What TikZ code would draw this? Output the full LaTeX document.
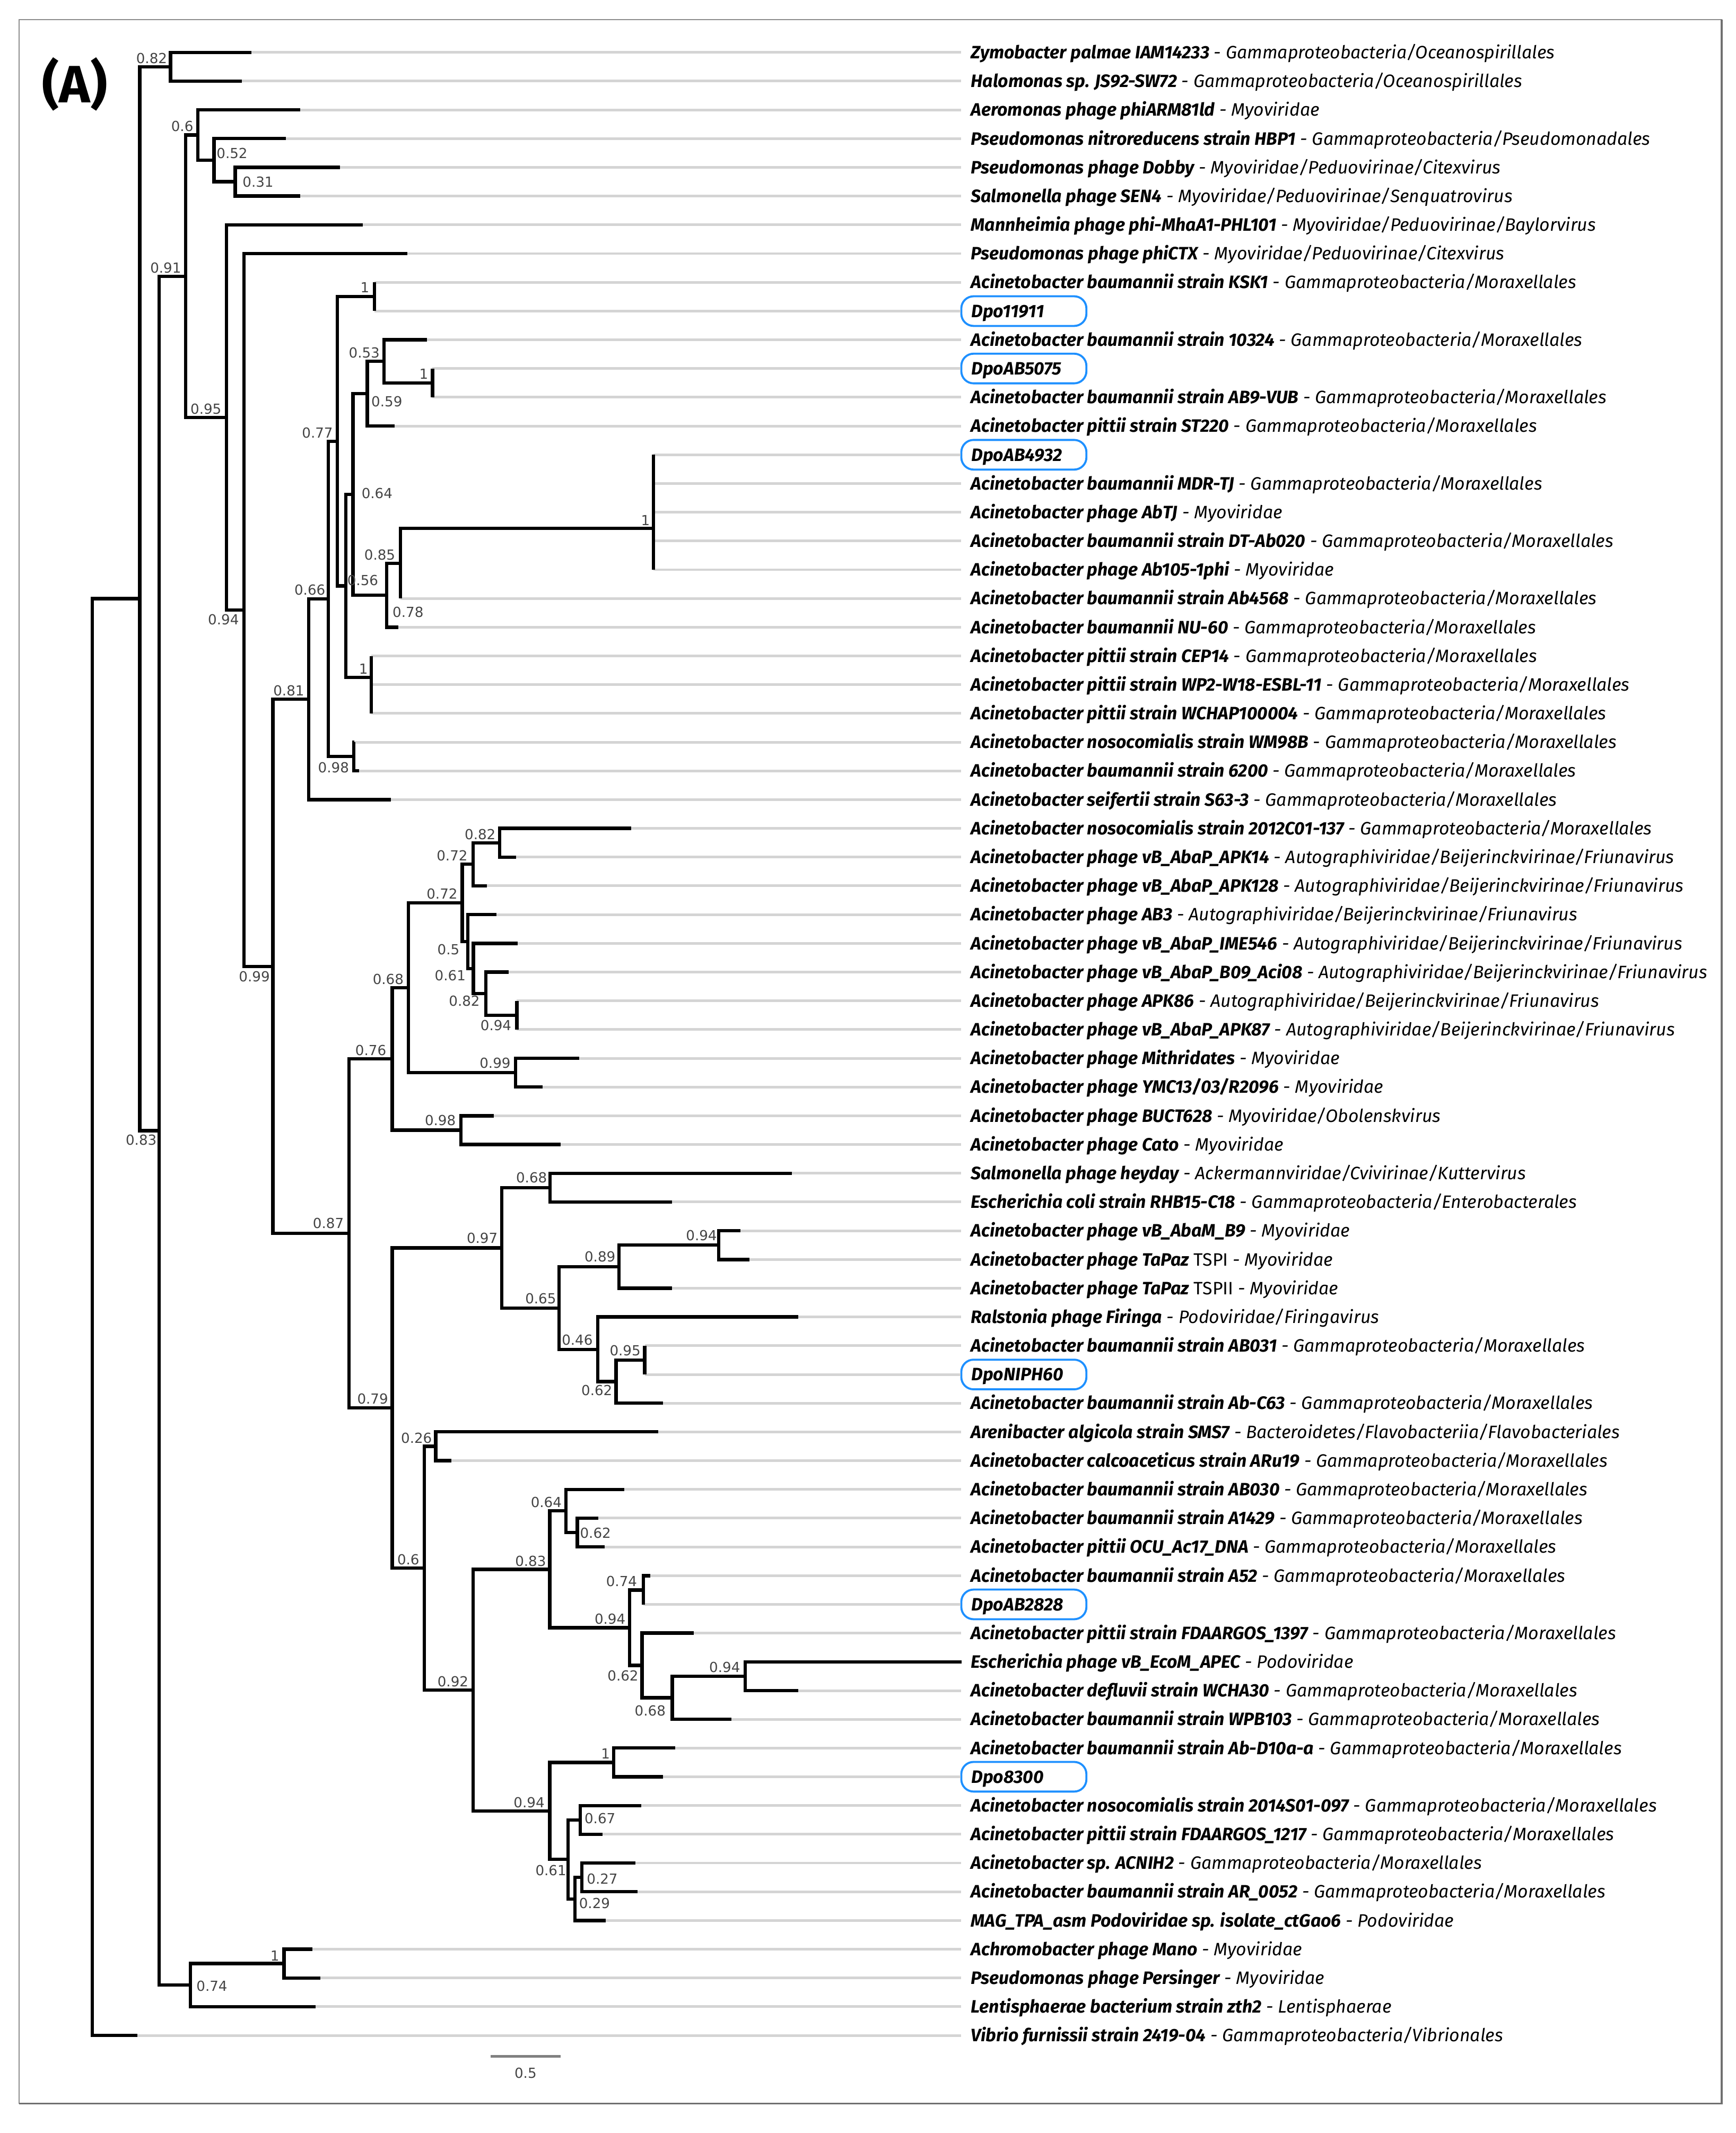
\documentclass[tikz,border=0pt]{standalone}
\usepackage{fontspec}
\setmainfont{Fira Sans}
\newfontfamily\supfont{DejaVu Sans}
\definecolor{dpoblue}{HTML}{1E90FF}
\definecolor{leafgray}{HTML}{D4D4D4}
\definecolor{supgray}{HTML}{444444}
\definecolor{framegray}{HTML}{8C8C8C}

\begin{document}
\begin{tikzpicture}[x=0.02cm, y=-0.02cm,
  br/.style={line width=1.4pt},
  leaf/.style={draw=leafgray, line width=1.1pt},
  lab/.style={anchor=west, inner xsep=0.14cm, inner ysep=0pt, text height=5.2pt, text depth=0pt,
    font=\fontsize{7.5}{9}\selectfont\itshape},
  dpo/.style={lab, draw=dpoblue, line width=0.85pt, rounded corners=0.18cm, minimum height=0.436cm,
    text width=1.54cm, align=left, inner xsep=0.15cm, font=\fontsize{7.5}{9}\selectfont\bfseries\itshape},
  sup/.style={font=\supfont\fontsize{5.8}{6}\selectfont, text=supgray, inner sep=0pt},
]
\useasboundingbox (0,0) rectangle (1276,1568);

% frame
\draw[framegray, line width=0.4pt] (14,14.3) rectangle (1265.7,1546.3);
\draw[framegray!80!black, line width=0.8pt] (1265.7,14.3) -- (1265.7,1546.3) -- (14,1546.3);

\node[font=\fontsize{22}{24}\selectfont\bfseries] (title) at (55,62) {(A)};

% internal nodes
\coordinate (R) at (67.9,968.2);
\coordinate (nA) at (102.8,440.1);
\coordinate (nB) at (125.4,49.05);
\coordinate (nC) at (117,831.2);
\coordinate (nD) at (136.4,203.05);
\coordinate (n06) at (145.4,99.25);
\coordinate (n052) at (157.4,117.7);
\coordinate (n031) at (172.9,133.55);
\coordinate (n095) at (166.5,306.85);
\coordinate (n094) at (179.4,448.4);
\coordinate (n099) at (200.6,710.4);
\coordinate (n081) at (227,514.05);
\coordinate (n066) at (241.4,440.3);
\coordinate (n077) at (248,324.4);
\coordinate (n1a) at (275.4,218.1);
\coordinate (n056) at (254.3,430.75);
\coordinate (n064) at (259.5,363.5);
\coordinate (n059) at (270,289.4);
\coordinate (n053) at (282.3,265.6);
\coordinate (n1c) at (318,281.45);
\coordinate (n078) at (284.4,437.6);
\coordinate (n085) at (294.4,414.1);
\coordinate (n1d) at (480.4,388.3);
\coordinate (n1b) at (273,498.0);
\coordinate (n098) at (260,556.15);
\coordinate (n087) at (256.5,906.7);
\coordinate (n076) at (288.4,778.4);
\coordinate (n068) at (300.2,726.1);
\coordinate (n072a) at (339.8,663.7);
\coordinate (n072b) at (347.8,635.35);
\coordinate (n082b) at (367.3,619.5);
\coordinate (n05) at (343.9,692.1);
\coordinate (n061) at (348,711.95);
\coordinate (n082c) at (357.2,730.4);
\coordinate (n094c) at (380,746.25);
\coordinate (n099b) at (379,788.55);
\coordinate (n098b) at (338.8,830.75);
\coordinate (n079) at (288.4,1035.05);
\coordinate (n097) at (369,917.3);
\coordinate (n068b) at (404.3,873.05);
\coordinate (n065) at (411,961.5);
\coordinate (n089) at (455.2,931.15);
\coordinate (n094d) at (528.4,915.3);
\coordinate (n046) at (439.4,991.9);
\coordinate (n062b) at (452.9,1015.65);
\coordinate (n095b) at (474,999.8);
\coordinate (n06b) at (312,1152.8);
\coordinate (n026) at (320.3,1063.15);
\coordinate (n092) at (347.8,1242.4);
\coordinate (n083b) at (404.2,1153.65);
\coordinate (n064b) at (416,1110.7);
\coordinate (n062c) at (424.4,1126.55);
\coordinate (n094e) at (463,1196.6);
\coordinate (n074b) at (473,1168.85);
\coordinate (n062d) at (472,1224.3);
\coordinate (n068c) at (494.2,1248.05);
\coordinate (n094f) at (548,1232.2);
\coordinate (n094g) at (404.2,1331.2);
\coordinate (n1e) at (451.2,1295.55);
\coordinate (n061b) at (417.5,1366.9);
\coordinate (n067) at (426.7,1337.85);
\coordinate (n029) at (422.6,1395.9);
\coordinate (n027) at (427.7,1380.05);
\coordinate (n074) at (140,1459.3);
\coordinate (n1f) at (208.8,1443.45);

% leaf tips
\coordinate (t1) at (185,38.5);
\coordinate (t2) at (178,59.6);
\coordinate (t3) at (220.7,80.8);
\coordinate (t4) at (210,101.9);
\coordinate (t5) at (250,123.0);
\coordinate (t6) at (220.7,144.1);
\coordinate (t7) at (266.6,165.3);
\coordinate (t8) at (299.6,186.4);
\coordinate (t9) at (275.4,207.5);
\coordinate (t10) at (275.4,228.7);
\coordinate (t11) at (313.8,249.8);
\coordinate (t12) at (318,270.9);
\coordinate (t13) at (318,292.0);
\coordinate (t14) at (290,313.2);
\coordinate (t15) at (480.4,334.3);
\coordinate (t16) at (480.4,355.4);
\coordinate (t17) at (480.4,376.5);
\coordinate (t18) at (480.4,397.7);
\coordinate (t19) at (480.4,418.8);
\coordinate (t20) at (294.4,439.9);
\coordinate (t21) at (292.8,461.1);
\coordinate (t22) at (273,482.2);
\coordinate (t23) at (273,503.3);
\coordinate (t24) at (273,524.4);
\coordinate (t25) at (260.5,545.6);
\coordinate (t26) at (263.8,566.7);
\coordinate (t27) at (287.2,587.8);
\coordinate (t28) at (464,608.9);
\coordinate (t29) at (379.4,630.1);
\coordinate (t30) at (358,651.2);
\coordinate (t31) at (365,672.3);
\coordinate (t32) at (380.7,693.5);
\coordinate (t33) at (374,714.6);
\coordinate (t34) at (380,735.7);
\coordinate (t35) at (380,756.8);
\coordinate (t36) at (426,778.0);
\coordinate (t37) at (399,799.1);
\coordinate (t38) at (363,820.2);
\coordinate (t39) at (412,841.3);
\coordinate (t40) at (582,862.5);
\coordinate (t41) at (494.2,883.6);
\coordinate (t42) at (544.3,904.7);
\coordinate (t43) at (551,925.9);
\coordinate (t44) at (494.2,947.0);
\coordinate (t45) at (587,968.1);
\coordinate (t46) at (474,989.2);
\coordinate (t47) at (474,1010.4);
\coordinate (t48) at (487.3,1031.5);
\coordinate (t49) at (484,1052.6);
\coordinate (t50) at (332,1073.7);
\coordinate (t51) at (459,1094.9);
\coordinate (t52) at (440,1116.0);
\coordinate (t53) at (444.5,1137.1);
\coordinate (t54) at (478,1158.3);
\coordinate (t55) at (473,1179.4);
\coordinate (t56) at (510,1200.5);
\coordinate (t57) at (707,1221.6);
\coordinate (t58) at (587,1242.8);
\coordinate (t59) at (537.8,1263.9);
\coordinate (t60) at (496.5,1285.0);
\coordinate (t61) at (487.5,1306.1);
\coordinate (t62) at (471.4,1327.3);
\coordinate (t63) at (442.8,1348.4);
\coordinate (t64) at (467,1369.5);
\coordinate (t65) at (468.7,1390.6);
\coordinate (t66) at (445.5,1411.8);
\coordinate (t67) at (229.6,1432.9);
\coordinate (t68) at (235.4,1454.0);
\coordinate (t69) at (232,1475.1);
\coordinate (t70) at (101,1496.3);

% leaf labels
\node[lab] (l1) at (706.5,38.5) {\textbf{Zymobacter palmae IAM14233} - Gammaproteobacteria/Oceanospirillales};
\node[lab] (l2) at (706.5,59.6) {\textbf{Halomonas sp. JS92-SW72} - Gammaproteobacteria/Oceanospirillales};
\node[lab] (l3) at (706.5,80.8) {\textbf{Aeromonas phage phiARM81ld} - Myoviridae};
\node[lab] (l4) at (706.5,101.9) {\textbf{Pseudomonas nitroreducens strain HBP1} - Gammaproteobacteria/Pseudomonadales};
\node[lab] (l5) at (706.5,123.0) {\textbf{Pseudomonas phage Dobby} - Myoviridae/Peduovirinae/Citexvirus};
\node[lab] (l6) at (706.5,144.1) {\textbf{Salmonella phage SEN4} - Myoviridae/Peduovirinae/Senquatrovirus};
\node[lab] (l7) at (706.5,165.3) {\textbf{Mannheimia phage phi-MhaA1-PHL101} - Myoviridae/Peduovirinae/Baylorvirus};
\node[lab] (l8) at (706.5,186.4) {\textbf{Pseudomonas phage phiCTX} - Myoviridae/Peduovirinae/Citexvirus};
\node[lab] (l9) at (706.5,207.5) {\textbf{Acinetobacter baumannii strain KSK1} - Gammaproteobacteria/Moraxellales};
\node[dpo] (l10) at (706,228.7) {Dpo11911};
\node[lab] (l11) at (706.5,249.8) {\textbf{Acinetobacter baumannii strain 10324} - Gammaproteobacteria/Moraxellales};
\node[dpo] (l12) at (706,270.9) {DpoAB5075};
\node[lab] (l13) at (706.5,292.0) {\textbf{Acinetobacter baumannii strain AB9-VUB} - Gammaproteobacteria/Moraxellales};
\node[lab] (l14) at (706.5,313.2) {\textbf{Acinetobacter pittii strain ST220} - Gammaproteobacteria/Moraxellales};
\node[dpo] (l15) at (706,334.3) {DpoAB4932};
\node[lab] (l16) at (706.5,355.4) {\textbf{Acinetobacter baumannii MDR-TJ} - Gammaproteobacteria/Moraxellales};
\node[lab] (l17) at (706.5,376.5) {\textbf{Acinetobacter phage AbTJ} - Myoviridae};
\node[lab] (l18) at (706.5,397.7) {\textbf{Acinetobacter baumannii strain DT-Ab020} - Gammaproteobacteria/Moraxellales};
\node[lab] (l19) at (706.5,418.8) {\textbf{Acinetobacter phage Ab105-1phi} - Myoviridae};
\node[lab] (l20) at (706.5,439.9) {\textbf{Acinetobacter baumannii strain Ab4568} - Gammaproteobacteria/Moraxellales};
\node[lab] (l21) at (706.5,461.1) {\textbf{Acinetobacter baumannii NU-60} - Gammaproteobacteria/Moraxellales};
\node[lab] (l22) at (706.5,482.2) {\textbf{Acinetobacter pittii strain CEP14} - Gammaproteobacteria/Moraxellales};
\node[lab] (l23) at (706.5,503.3) {\textbf{Acinetobacter pittii strain WP2-W18-ESBL-11} - Gammaproteobacteria/Moraxellales};
\node[lab] (l24) at (706.5,524.4) {\textbf{Acinetobacter pittii strain WCHAP100004} - Gammaproteobacteria/Moraxellales};
\node[lab] (l25) at (706.5,545.6) {\textbf{Acinetobacter nosocomialis strain WM98B} - Gammaproteobacteria/Moraxellales};
\node[lab] (l26) at (706.5,566.7) {\textbf{Acinetobacter baumannii strain 6200} - Gammaproteobacteria/Moraxellales};
\node[lab] (l27) at (706.5,587.8) {\textbf{Acinetobacter seifertii strain S63-3} - Gammaproteobacteria/Moraxellales};
\node[lab] (l28) at (706.5,608.9) {\textbf{Acinetobacter nosocomialis strain 2012C01-137} - Gammaproteobacteria/Moraxellales};
\node[lab] (l29) at (706.5,630.1) {\textbf{Acinetobacter phage vB\_AbaP\_APK14} - Autographiviridae/Beijerinckvirinae/Friunavirus};
\node[lab] (l30) at (706.5,651.2) {\textbf{Acinetobacter phage vB\_AbaP\_APK128} - Autographiviridae/Beijerinckvirinae/Friunavirus};
\node[lab] (l31) at (706.5,672.3) {\textbf{Acinetobacter phage AB3} - Autographiviridae/Beijerinckvirinae/Friunavirus};
\node[lab] (l32) at (706.5,693.5) {\textbf{Acinetobacter phage vB\_AbaP\_IME546} - Autographiviridae/Beijerinckvirinae/Friunavirus};
\node[lab] (l33) at (706.5,714.6) {\textbf{Acinetobacter phage vB\_AbaP\_B09\_Aci08} - Autographiviridae/Beijerinckvirinae/Friunavirus};
\node[lab] (l34) at (706.5,735.7) {\textbf{Acinetobacter phage APK86} - Autographiviridae/Beijerinckvirinae/Friunavirus};
\node[lab] (l35) at (706.5,756.8) {\textbf{Acinetobacter phage vB\_AbaP\_APK87} - Autographiviridae/Beijerinckvirinae/Friunavirus};
\node[lab] (l36) at (706.5,778.0) {\textbf{Acinetobacter phage Mithridates} - Myoviridae};
\node[lab] (l37) at (706.5,799.1) {\textbf{Acinetobacter phage YMC13/03/R2096} - Myoviridae};
\node[lab] (l38) at (706.5,820.2) {\textbf{Acinetobacter phage BUCT628} - Myoviridae/Obolenskvirus};
\node[lab] (l39) at (706.5,841.3) {\textbf{Acinetobacter phage Cato} - Myoviridae};
\node[lab] (l40) at (706.5,862.5) {\textbf{Salmonella phage heyday} - Ackermannviridae/Cvivirinae/Kuttervirus};
\node[lab] (l41) at (706.5,883.6) {\textbf{Escherichia coli strain RHB15-C18} - Gammaproteobacteria/Enterobacterales};
\node[lab] (l42) at (706.5,904.7) {\textbf{Acinetobacter phage vB\_AbaM\_B9} - Myoviridae};
\node[lab] (l43) at (706.5,925.9) {\textbf{Acinetobacter phage TaPaz} \upshape TSPI \itshape - Myoviridae};
\node[lab] (l44) at (706.5,947.0) {\textbf{Acinetobacter phage TaPaz} \upshape TSPII \itshape - Myoviridae};
\node[lab] (l45) at (706.5,968.1) {\textbf{Ralstonia phage Firinga} - Podoviridae/Firingavirus};
\node[lab] (l46) at (706.5,989.2) {\textbf{Acinetobacter baumannii strain AB031} - Gammaproteobacteria/Moraxellales};
\node[dpo] (l47) at (706,1010.4) {DpoNIPH60};
\node[lab] (l48) at (706.5,1031.5) {\textbf{Acinetobacter baumannii strain Ab-C63} - Gammaproteobacteria/Moraxellales};
\node[lab] (l49) at (706.5,1052.6) {\textbf{Arenibacter algicola strain SMS7} - Bacteroidetes/Flavobacteriia/Flavobacteriales};
\node[lab] (l50) at (706.5,1073.7) {\textbf{Acinetobacter calcoaceticus strain ARu19} - Gammaproteobacteria/Moraxellales};
\node[lab] (l51) at (706.5,1094.9) {\textbf{Acinetobacter baumannii strain AB030} - Gammaproteobacteria/Moraxellales};
\node[lab] (l52) at (706.5,1116.0) {\textbf{Acinetobacter baumannii strain A1429} - Gammaproteobacteria/Moraxellales};
\node[lab] (l53) at (706.5,1137.1) {\textbf{Acinetobacter pittii OCU\_Ac17\_DNA} - Gammaproteobacteria/Moraxellales};
\node[lab] (l54) at (706.5,1158.3) {\textbf{Acinetobacter baumannii strain A52} - Gammaproteobacteria/Moraxellales};
\node[dpo] (l55) at (706,1179.4) {DpoAB2828};
\node[lab] (l56) at (706.5,1200.5) {\textbf{Acinetobacter pittii strain FDAARGOS\_1397} - Gammaproteobacteria/Moraxellales};
\node[lab] (l57) at (706.5,1221.6) {\textbf{Escherichia phage vB\_EcoM\_APEC} - Podoviridae};
\node[lab] (l58) at (706.5,1242.8) {\textbf{Acinetobacter defluvii strain WCHA30} - Gammaproteobacteria/Moraxellales};
\node[lab] (l59) at (706.5,1263.9) {\textbf{Acinetobacter baumannii strain WPB103} - Gammaproteobacteria/Moraxellales};
\node[lab] (l60) at (706.5,1285.0) {\textbf{Acinetobacter baumannii strain Ab-D10a-a} - Gammaproteobacteria/Moraxellales};
\node[dpo] (l61) at (706,1306.1) {Dpo8300};
\node[lab] (l62) at (706.5,1327.3) {\textbf{Acinetobacter nosocomialis strain 2014S01-097} - Gammaproteobacteria/Moraxellales};
\node[lab] (l63) at (706.5,1348.4) {\textbf{Acinetobacter pittii strain FDAARGOS\_1217} - Gammaproteobacteria/Moraxellales};
\node[lab] (l64) at (706.5,1369.5) {\textbf{Acinetobacter sp. ACNIH2} - Gammaproteobacteria/Moraxellales};
\node[lab] (l65) at (706.5,1390.6) {\textbf{Acinetobacter baumannii strain AR\_0052} - Gammaproteobacteria/Moraxellales};
\node[lab] (l66) at (706.5,1411.8) {\textbf{MAG\_TPA\_asm Podoviridae sp. isolate\_ctGao6} - Podoviridae};
\node[lab] (l67) at (706.5,1432.9) {\textbf{Achromobacter phage Mano} - Myoviridae};
\node[lab] (l68) at (706.5,1454.0) {\textbf{Pseudomonas phage Persinger} - Myoviridae};
\node[lab] (l69) at (706.5,1475.1) {\textbf{Lentisphaerae bacterium strain zth2} - Lentisphaerae};
\node[lab] (l70) at (706.5,1496.3) {\textbf{Vibrio furnissii strain 2419-04} - Gammaproteobacteria/Vibrionales};

% grey guide lines from tips to labels
\foreach \i in {1,...,70}
  \draw[leaf] (t\i) -- (l\i.west);

% branches
\draw[br] (R) |- (nA) (R) |- (t70);
\draw[br] (nA) |- (nB) (nA) |- (nC);
\draw[br] (nB) |- (t1) (nB) |- (t2);
\draw[br] (nC) |- (nD) (nC) |- (n074);
\draw[br] (nD) |- (n06) (nD) |- (n095);
\draw[br] (n06) |- (t3) (n06) |- (n052);
\draw[br] (n052) |- (t4) (n052) |- (n031);
\draw[br] (n031) |- (t5) (n031) |- (t6);
\draw[br] (n095) |- (t7) (n095) |- (n094);
\draw[br] (n094) |- (t8) (n094) |- (n099);
\draw[br] (n099) |- (n081) (n099) |- (n087);
\draw[br] (n081) |- (n066) (n081) |- (t27);
\draw[br] (n066) |- (n077) (n066) |- (n098);
\draw[br] (n077) |- (n1a) (n077) |- (n056);
\draw[br] (n1a) |- (t9) (n1a) |- (t10);
\draw[br] (n056) |- (n064) (n056) |- (n1b);
\draw[br] (n064) |- (n059) (n064) |- (n078);
\draw[br] (n059) |- (n053) (n059) |- (t14);
\draw[br] (n053) |- (t11) (n053) |- (n1c);
\draw[br] (n1c) |- (t12) (n1c) |- (t13);
\draw[br] (n078) |- (n085) (n078) |- (t21);
\draw[br] (n085) |- (n1d) (n085) |- (t20);
\draw[br] (n1d) |- (t15) (n1d) |- (t19);
\draw[br] (n1b) |- (t22) (n1b) |- (t24);
\draw[br] (n098) |- (t25) (n098) |- (t26);
\draw[br] (n087) |- (n076) (n087) |- (n079);
\draw[br] (n076) |- (n068) (n076) |- (n098b);
\draw[br] (n068) |- (n072a) (n068) |- (n099b);
\draw[br] (n072a) |- (n072b) (n072a) |- (n05);
\draw[br] (n072b) |- (n082b) (n072b) |- (t30);
\draw[br] (n082b) |- (t28) (n082b) |- (t29);
\draw[br] (n05) |- (t31) (n05) |- (n061);
\draw[br] (n061) |- (t32) (n061) |- (n082c);
\draw[br] (n082c) |- (t33) (n082c) |- (n094c);
\draw[br] (n094c) |- (t34) (n094c) |- (t35);
\draw[br] (n099b) |- (t36) (n099b) |- (t37);
\draw[br] (n098b) |- (t38) (n098b) |- (t39);
\draw[br] (n079) |- (n097) (n079) |- (n06b);
\draw[br] (n097) |- (n068b) (n097) |- (n065);
\draw[br] (n068b) |- (t40) (n068b) |- (t41);
\draw[br] (n065) |- (n089) (n065) |- (n046);
\draw[br] (n089) |- (n094d) (n089) |- (t44);
\draw[br] (n094d) |- (t42) (n094d) |- (t43);
\draw[br] (n046) |- (t45) (n046) |- (n062b);
\draw[br] (n062b) |- (n095b) (n062b) |- (t48);
\draw[br] (n095b) |- (t46) (n095b) |- (t47);
\draw[br] (n06b) |- (n026) (n06b) |- (n092);
\draw[br] (n026) |- (t49) (n026) |- (t50);
\draw[br] (n092) |- (n083b) (n092) |- (n094g);
\draw[br] (n083b) |- (n064b) (n083b) |- (n094e);
\draw[br] (n064b) |- (t51) (n064b) |- (n062c);
\draw[br] (n062c) |- (t52) (n062c) |- (t53);
\draw[br] (n094e) |- (n074b) (n094e) |- (n062d);
\draw[br] (n074b) |- (t54) (n074b) |- (t55);
\draw[br] (n062d) |- (t56) (n062d) |- (n068c);
\draw[br] (n068c) |- (n094f) (n068c) |- (t59);
\draw[br] (n094f) |- (t57) (n094f) |- (t58);
\draw[br] (n094g) |- (n1e) (n094g) |- (n061b);
\draw[br] (n1e) |- (t60) (n1e) |- (t61);
\draw[br] (n061b) |- (n067) (n061b) |- (n029);
\draw[br] (n067) |- (t62) (n067) |- (t63);
\draw[br] (n029) |- (n027) (n029) |- (t66);
\draw[br] (n027) |- (t64) (n027) |- (t65);
\draw[br] (n074) |- (n1f) (n074) |- (t69);
\draw[br] (n1f) |- (t67) (n1f) |- (t68);

% support values
\node[sup] (s-nB) at (111.5,42.8) {0.82};
\node[sup] (s-n06) at (134,92.8) {0.6};
\node[sup] (s-n052) at (170.6,112.8) {0.52};
\node[sup] (s-n031) at (189.7,133.8) {0.31};
\node[sup] (s-nD) at (121.8,196.8) {0.91};
\node[sup] (s-n1a) at (268.3,211.4) {1};
\node[sup] (s-n053) at (267.8,259.3) {0.53};
\node[sup] (s-n1c) at (311.5,274.9) {1};
\node[sup] (s-n059) at (284.4,295.1) {0.59};
\node[sup] (s-n095) at (151.4,300.6) {0.95};
\node[sup] (s-n077) at (233.4,318.2) {0.77};
\node[sup] (s-n064) at (277.2,362.5) {0.64};
\node[sup] (s-n1d) at (474.5,382.4) {1};
\node[sup] (s-n085) at (279.2,407.7) {0.85};
\node[sup] (s-n056) at (266.7,426.7) {0.56};
\node[sup] (s-n066) at (227.8,433.8) {0.66};
\node[sup] (s-n078) at (300,450) {0.78};
\node[sup] (s-n094) at (164.3,455.5) {0.94};
\node[sup] (s-n1b) at (267.2,491.6) {1};
\node[sup] (s-n081) at (212.3,507.7) {0.81};
\node[sup] (s-n098) at (245.2,564.4) {0.98};
\node[sup] (s-n082b) at (353,613.2) {0.82};
\node[sup] (s-n072b) at (332.4,628.9) {0.72};
\node[sup] (s-n072a) at (325,656.9) {0.72};
\node[sup] (s-n05) at (329.7,697.9) {0.5};
\node[sup] (s-n099) at (187,717.7) {0.99};
\node[sup] (s-n068) at (285.4,719.7) {0.68};
\node[sup] (s-n061) at (331,717.2) {0.61};
\node[sup] (s-n082c) at (341.4,735.9) {0.82};
\node[sup] (s-n094c) at (364.6,753.8) {0.94};
\node[sup] (s-n076) at (272.6,772.2) {0.76};
\node[sup] (s-n099b) at (364,781.4) {0.99};
\node[sup] (s-n098b) at (323.7,823.6) {0.98};
\node[sup] (s-nC) at (103.8,838.1) {0.83};
\node[sup] (s-n068b) at (390.8,865.7) {0.68};
\node[sup] (s-n087) at (241.4,899.3) {0.87};
\node[sup] (s-n094d) at (515.7,908) {0.94};
\node[sup] (s-n097) at (354.5,910) {0.97};
\node[sup] (s-n089) at (441.1,923.7) {0.89};
\node[sup] (s-n065) at (397.5,954.5) {0.65};
\node[sup] (s-n046) at (424.4,984.9) {0.46};
\node[sup] (s-n095b) at (459.6,992.8) {0.95};
\node[sup] (s-n062b) at (438.8,1021.9) {0.62};
\node[sup] (s-n079) at (274,1028.3) {0.79};
\node[sup] (s-n026) at (306.2,1057) {0.26};
\node[sup] (s-n064b) at (401.6,1104.2) {0.64};
\node[sup] (s-n062c) at (437.8,1127) {0.62};
\node[sup] (s-n06b) at (300.2,1146.5) {0.6};
\node[sup] (s-n083b) at (390.1,1147.6) {0.83};
\node[sup] (s-n074b) at (457,1162.5) {0.74};
\node[sup] (s-n094e) at (448.5,1190) {0.94};
\node[sup] (s-n094f) at (532.8,1225.6) {0.94};
\node[sup] (s-n062d) at (458,1231.9) {0.62};
\node[sup] (s-n092) at (333,1236) {0.92};
\node[sup] (s-n068c) at (478,1257.6) {0.68};
\node[sup] (s-n1e) at (445.2,1289.3) {1};
\node[sup] (s-n094g) at (389,1325) {0.94};
\node[sup] (s-n067) at (441.1,1336.9) {0.67};
\node[sup] (s-n061b) at (405,1374.8) {0.61};
\node[sup] (s-n027) at (442.8,1381.1) {0.27};
\node[sup] (s-n029) at (437.1,1399.1) {0.29};
\node[sup] (s-n1f) at (202.1,1437.8) {1};
\node[sup] (s-n074) at (155.8,1459.9) {0.74};

% scale bar
\coordinate (sb1) at (360.7,1511.6);
\coordinate (sb2) at (412,1511.6);
\draw[gray, line width=1pt] (sb1) -- (sb2);
\node[sup] (sbl) at (386.4,1523.8) {0.5};

\end{tikzpicture}
\end{document}
